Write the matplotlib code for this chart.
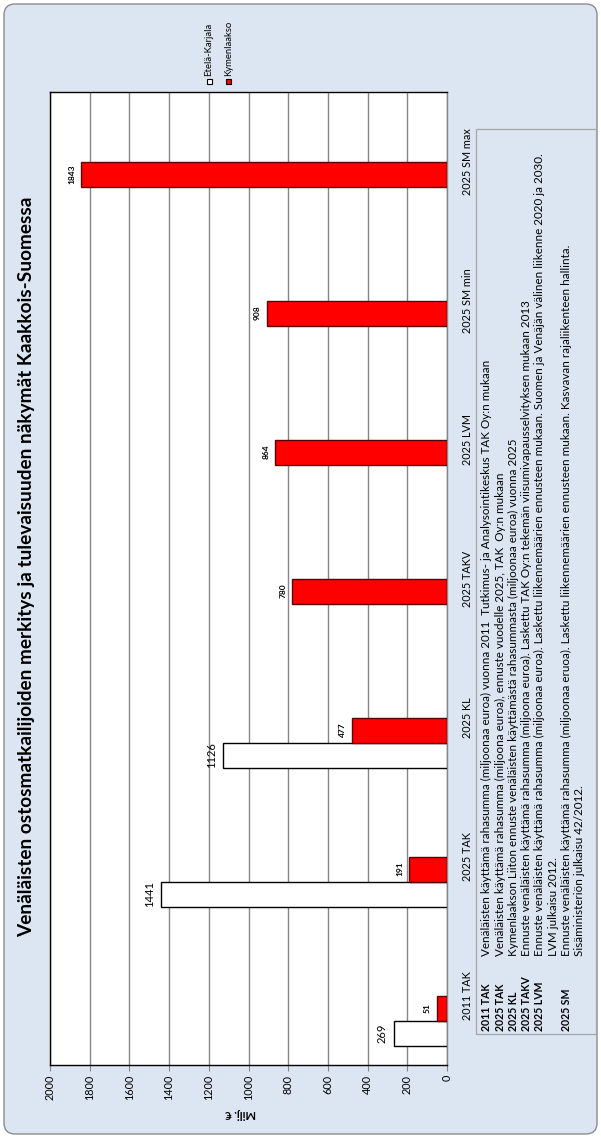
import matplotlib
matplotlib.use("Agg")
import matplotlib.pyplot as plt
from matplotlib.patches import FancyBboxPatch, Rectangle
from matplotlib.transforms import Affine2D
import numpy as np

# ---------------- data ----------------
categories = ["2011 TAK", "2025 TAK", "2025 KL", "2025 TAKV", "2025 LVM", "2025 SM min", "2025 SM max"]
etela_karjala = [269, 1441, 1126, None, None, None, None]
kymenlaakso = [51, 191, 477, 780, 864, 908, 1843]
series_names = ["Etelä-Karjala", "Kymenlaakso"]
value_ticks = [0, 200, 400, 600, 800, 1000, 1200, 1400, 1600, 1800, 2000]
title = "Venäläisten ostosmatkailijoiden merkitys ja tulevaisuuden näkymät Kaakkois-Suomessa"
axis_label = "Milj. €"
note_keys = ["2011 TAK", "2025 TAK", "2025 KL", "2025 TAKV", "2025 LVM", "", "2025 SM", ""]
note_texts = [
    "Venäläisten käyttämä rahasumma (miljoonaa euroa) vuonna 2011  Tutkimus- ja Analysointikeskus TAK Oy:n mukaan",
    "Venäläisten käyttämä rahasumma (miljoona euroa), ennuste vuodelle 2025, TAK  Oy:n mukaan",
    "Kymenlaakson Liiton ennuste venäläisten käyttämästä rahasummasta (miljoonaa euroa) vuonna 2025",
    "Ennuste venäläisten käyttämä rahasumma (miljoona euroa). Laskettu TAK Oy:n tekemän viisumivapausselvityksen mukaan 2013",
    "Ennuste venäläisten käyttämä rahasumma (miljoonaa euroa). Laskettu liikennemäärien ennusteen mukaan. Suomen ja Venäjän välinen liikenne 2020 ja 2030.",
    "LVM julkaisu 2012.",
    "Ennuste venäläisten käyttämä rahasumma (miljoonaa eruoa). Laskettu liikennemäärien ennusteen mukaan. Kasvavan rajaliikenteen hallinta.",
    "Sisäministeriön julkaisu 42/2012.",
]

# ---------------- figure ----------------
W, H = 601, 1138
plt.rcParams['font.family'] = ['Lato', 'DejaVu Sans']
fig = plt.figure(figsize=(W / 100, H / 100), dpi=100)
fig.patch.set_facecolor("white")
PX = Affine2D().scale(0.01, -0.01).translate(0, H / 100) + fig.dpi_scale_trans

BG = "#DCE6F2"
fig.add_artist(FancyBboxPatch((4, 4), 593, 1130, boxstyle="round,pad=0,rounding_size=11",
                              transform=PX, facecolor=BG, edgecolor="#8C8C8C", lw=1.0, zorder=0))

# axes in pixel layout
L, R, T, B = 50, 447, 92, 1065
ax = fig.add_axes([L / W, 1 - B / H, (R - L) / W, (B - T) / H])
ax.set_facecolor("white")
ax.set_xlim(2000, 0)
ax.set_ylim(-0.5, len(categories) - 0.5)

idx = np.arange(len(categories))
bh = 0.18
off_ek = -0.27
off_ky = -0.09
for i, v in enumerate(etela_karjala):
    if v is None:
        continue
    ax.barh(idx[i] + off_ek, v, height=bh, color="white", edgecolor="black", lw=1.0, zorder=3)
    ax.annotate(str(v), (v, idx[i] + off_ek), xytext=(-8.3, 0), textcoords="offset points",
                rotation=90, ha="center", va="center", fontsize=8, zorder=4)
for i, v in enumerate(kymenlaakso):
    ax.barh(idx[i] + off_ky, v, height=bh, color="#FF0000", edgecolor="#5A0000", lw=1.0, zorder=3)
    ax.annotate(str(v), (v, idx[i] + off_ky), xytext=(-6.8, 0), textcoords="offset points",
                rotation=90, ha="center", va="center", fontsize=6, fontweight="bold", zorder=4)

ax.set_xticks(value_ticks)
ax.set_xticklabels([str(t) for t in value_ticks], rotation=90, fontsize=7.8)
ax.tick_params(axis="x", direction="out", length=4, width=0.8, color="#868686", pad=3)
ax.xaxis.grid(True, color="#868686", lw=1.0, zorder=1)
ax.set_axisbelow(True)

ax.yaxis.tick_right()
ax.set_yticks(idx)
ax.set_yticklabels(categories, rotation=90, va="center", ha="left", fontsize=7.8)
ax.tick_params(axis="y", length=0, pad=11)
for s in ax.spines.values():
    s.set_color("black")
    s.set_linewidth(1.0)
ax.spines["right"].set_color("#868686")

fig.text(240, 1113, axis_label, transform=PX, rotation=180, ha="center", va="center",
         fontsize=8, fontweight="bold")

# title
fig.text(27, 567, title, transform=PX, rotation=90, ha="center", va="center",
         fontsize=13.7, fontweight="bold")

# legend
for xc, name, fc in [(209, series_names[0], "white"), (228.5, series_names[1], "#FF0000")]:
    fig.add_artist(Rectangle((xc - 2.5, 79), 5, 5, transform=PX, facecolor=fc,
                             edgecolor="black", lw=0.8))
    fig.text(xc, 76, name, transform=PX, rotation=90, ha="center", va="bottom", fontsize=6.8)

# notes box
fig.add_artist(Rectangle((476, 129), 120, 905, transform=PX, facecolor="none",
                         edgecolor="#A6A6A6", lw=0.9))
xs = [486.7, 500.0, 513.3, 526.6, 539.9, 553.2, 566.5, 579.8]
for x, k, t in zip(xs, note_keys, note_texts):
    if k:
        fig.text(x, 1031, k, transform=PX, rotation=90, ha="center", va="bottom",
                 fontsize=7.6, fontweight="bold")
    fig.text(x, 956, t, transform=PX, rotation=90, ha="center", va="bottom", fontsize=8.4)

fig.savefig("out.png", dpi=100, facecolor=fig.get_facecolor())
